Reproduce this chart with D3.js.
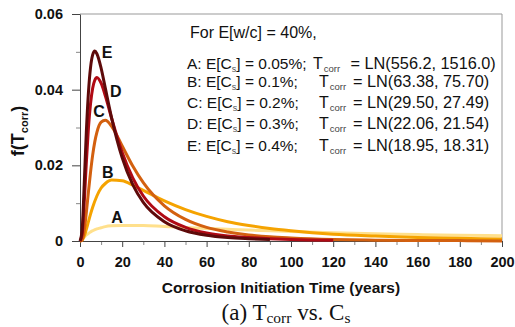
<!DOCTYPE html>
<html>
<head>
<meta charset="utf-8">
<script src="https://cdn.jsdelivr.net/npm/d3@7"></script>
<style>
  body { margin: 0; background: #fff; }
  svg { display: block; }
</style>
</head>
<body>
<div id="chart"></div>
<script>
// values
var names = ["A", "B", "C", "D", "E"];
var csLevels = ["0.05%", "0.1%", "0.2%", "0.3%", "0.4%"];
var lnParams = ["556.2, 1516.0", "63.38, 75.70", "29.50, 27.49", "22.06, 21.54", "18.95, 18.31"];
var colors = ["#ffe08c", "#f5a300", "#d3600f", "#b00a14", "#5e0a0a"];

var xAB = [0, 1, 2, 3, 4, 5, 6, 8, 10, 12, 15, 20, 25, 30, 40, 50, 60, 70, 80, 90, 100, 120, 140, 160, 180, 200];
var xC = [0, 1, 2, 3, 4, 5, 6, 7, 8, 10, 12, 15, 20, 25, 30, 40, 50, 60, 70, 80, 90, 100, 120, 140, 160, 180, 200];
var xD = [0, 1, 2, 3, 4, 5, 6, 7, 8, 10, 12, 15, 20, 25, 30, 40, 50, 60, 70, 80, 90, 100, 120];
var xE = [0, 1, 2, 3, 4, 5, 6, 7, 8, 10, 12, 15, 20, 25, 30, 40, 50, 60, 70, 80, 90];

var yA = [0, 0.0004, 0.0010, 0.0016, 0.0020, 0.0024, 0.0027, 0.0032, 0.0035, 0.0038, 0.0040, 0.0041, 0.0041, 0.0041, 0.0038, 0.0036, 0.0033, 0.0031, 0.0029, 0.0027, 0.0025, 0.0022, 0.0019, 0.0017, 0.0015, 0.0014];
var yB = [0, 0.0002, 0.0013, 0.0031, 0.0051, 0.0071, 0.0089, 0.0119, 0.0140, 0.0152, 0.0161, 0.0159, 0.0148, 0.0134, 0.0106, 0.0083, 0.0065, 0.0051, 0.0041, 0.0033, 0.0027, 0.0018, 0.0013, 0.0009, 0.0007, 0.0005];
var yC = [0, 0.0003, 0.0027, 0.0075, 0.0130, 0.0182, 0.0227, 0.0262, 0.0287, 0.0314, 0.0319, 0.0303, 0.0251, 0.0198, 0.0154, 0.0093, 0.0057, 0.0036, 0.0024, 0.0016, 0.0011, 0.0008, 0.0004, 0.0002, 0.0001, 0.0001, 0.0000];
var yD = [0, 0.0017, 0.0101, 0.0207, 0.0299, 0.0363, 0.0404, 0.0425, 0.0432, 0.0417, 0.0384, 0.0324, 0.0234, 0.0167, 0.0119, 0.0064, 0.0036, 0.0021, 0.0013, 0.0009, 0.0006, 0.0004, 0.0002];
var yE = [0, 0.0028, 0.0150, 0.0288, 0.0393, 0.0459, 0.0492, 0.0502, 0.0495, 0.0457, 0.0404, 0.0325, 0.0220, 0.0149, 0.0102, 0.0051, 0.0027, 0.0015, 0.0009, 0.0006, 0.0004];

// where the letters sit next to the curves (data units)
var labelX = [17.5, 13.2, 9, 17, 12.8];
var labelY = [0.0063, 0.0182, 0.0342, 0.0395, 0.05];

var xMajor = [0, 20, 40, 60, 80, 100, 120, 140, 160, 180, 200];
var xMinor = [10, 30, 50, 70, 90, 110, 130, 150, 170, 190];
var yMajor = [0, 0.02, 0.04, 0.06];
var yMinor = [0.01, 0.03, 0.05];

var sans = "'Liberation Sans', Arial, sans-serif";

var margin = {top: 14, right: 13, bottom: 86, left: 80},
    width = 515 - margin.left - margin.right,
    height = 327 - margin.top - margin.bottom;

var svg = d3.select("#chart")
    .append("svg")
    .attr("width", 515)
    .attr("height", 327)
    .attr("font-family", sans);

var g = svg.append("g")
    .attr("transform", "translate(" + margin.left + "," + margin.top + ")");

var scX = d3.scaleLinear().domain([0, 200]).range([0, width]);
var scY = d3.scaleLinear().domain([0, 0.06]).range([height, 0]);

// frame top / right
g.append("path")
    .attr("d", "M0,0H" + width + "V" + height)
    .attr("fill", "none")
    .attr("stroke", "#999")
    .attr("stroke-width", 1);

// minor ticks
g.append("g")
    .attr("transform", "translate(0," + height + ")")
    .call(d3.axisBottom(scX).tickValues(xMinor).tickSize(4).tickFormat(""))
    .call(a => a.select(".domain").remove())
    .selectAll("line").attr("stroke", "#888");
g.append("g")
    .call(d3.axisLeft(scY).tickValues(yMinor).tickSize(4).tickFormat(""))
    .call(a => a.select(".domain").remove())
    .selectAll("line").attr("stroke", "#888");

// main axes
var xAxis = g.append("g")
    .attr("transform", "translate(0," + height + ")")
    .call(d3.axisBottom(scX).tickValues(xMajor).tickSize(6).tickSizeOuter(0).tickPadding(10).tickFormat(d3.format("d")));
var yAxis = g.append("g")
    .call(d3.axisLeft(scY).tickValues(yMajor).tickSize(8).tickSizeOuter(0).tickPadding(9)
        .tickFormat(d => d === 0 ? "0" : d3.format(".2f")(d)));

[xAxis, yAxis].forEach(function (a) {
    a.select(".domain").attr("stroke", "#444");
    a.selectAll(".tick line").attr("stroke", "#444");
    a.selectAll("text")
        .attr("font-family", sans)
        .attr("font-size", "14.5px")
        .attr("font-weight", "bold")
        .attr("fill", "#111");
});

// curves
var series = [
    {x: xAB, y: yA}, {x: xAB, y: yB}, {x: xC, y: yC}, {x: xD, y: yD}, {x: xE, y: yE}
];
var line = d3.line()
    .x(d => scX(d[0]))
    .y(d => scY(d[1]))
    .curve(d3.curveMonotoneX);

g.selectAll(".curve")
    .data(series)
    .enter()
    .append("path")
    .attr("class", "curve")
    .attr("d", s => line(s.x.map((v, i) => [v, s.y[i]])))
    .attr("fill", "none")
    .attr("stroke", (s, i) => colors[i])
    .attr("stroke-width", 3)
    .attr("stroke-linejoin", "round");

// curve letters
g.selectAll(".lab")
    .data(names)
    .enter()
    .append("text")
    .attr("class", "lab")
    .attr("x", (d, i) => scX(labelX[i]))
    .attr("y", (d, i) => scY(labelY[i]))
    .attr("dy", "0.36em")
    .attr("text-anchor", "middle")
    .attr("font-size", "16px")
    .attr("font-weight", "bold")
    .attr("fill", "#111")
    .text(d => d);

// legend text
svg.append("text")
    .attr("x", 190)
    .attr("y", 37.5)
    .attr("font-size", "16px")
    .attr("fill", "#111")
    .text("For E[w/c] = 40%,");

var rowY = [68.5, 86.5, 107.5, 128.5, 150.5];
names.forEach(function (n, i) {
    var t = svg.append("text")
        .attr("x", 187)
        .attr("y", rowY[i])
        .attr("font-size", "15.5px")
        .attr("fill", "#111");
    t.append("tspan").text(n + ": E[C");
    t.append("tspan").attr("font-size", "9px").attr("dy", 3).attr("fill", "#555").text("s");
    t.append("tspan").attr("dy", -3).text("] = " + csLevels[i] + ";");

    var t2 = svg.append("text")
        .attr("x", i === 0 ? 313 : 319)
        .attr("y", rowY[i])
        .attr("font-size", "16px")
        .attr("fill", "#111");
    t2.append("tspan").text("T");
    t2.append("tspan").attr("font-size", "9.5px").attr("dy", 3).attr("dx", 1).attr("fill", "#444").text("corr");

    svg.append("text")
        .attr("x", i === 0 ? 350.5 : 353)
        .attr("y", rowY[i])
        .attr("font-size", "16.3px")
        .attr("fill", "#111")
        .text("= LN(" + lnParams[i] + ")");
});

// axis titles
var yt = svg.append("text")
    .attr("transform", "translate(24,131) rotate(-90)")
    .attr("text-anchor", "middle")
    .attr("font-size", "18px")
    .attr("font-weight", "bold")
    .attr("fill", "#111");
yt.append("tspan").text("f(T");
yt.append("tspan").attr("font-size", "11px").attr("dy", 4).text("corr");
yt.append("tspan").attr("dy", -4).text(")");

svg.append("text")
    .attr("x", 281)
    .attr("y", 293)
    .attr("text-anchor", "middle")
    .attr("font-size", "15.5px")
    .attr("font-weight", "bold")
    .attr("fill", "#111")
    .text("Corrosion Initiation Time (years)");

// caption
var cap = svg.append("text")
    .attr("x", 286)
    .attr("y", 320)
    .attr("text-anchor", "middle")
    .attr("font-family", "'Liberation Serif', 'Times New Roman', serif")
    .attr("font-size", "23px")
    .attr("fill", "#111");
cap.append("tspan").text("(a) T");
cap.append("tspan").attr("font-size", "15.5px").attr("dy", 3).text("corr");
cap.append("tspan").attr("dy", -3).text(" vs. C");
cap.append("tspan").attr("font-size", "15.5px").attr("dy", 3).text("s");
</script>
</body>
</html>
